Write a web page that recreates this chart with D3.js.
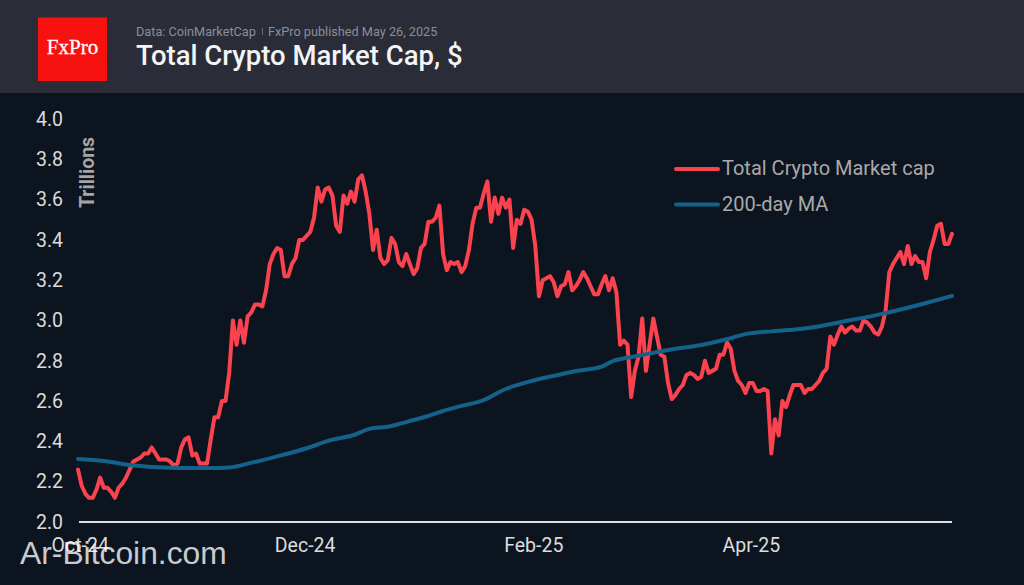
<!DOCTYPE html>
<html>
<head>
<meta charset="utf-8">
<script src="https://cdn.jsdelivr.net/npm/d3@7"></script>
<style>
    html, body { margin: 0; padding: 0; background: #0c1420; overflow: hidden; }
    svg { display: block; }
    text { font-family: Roboto, sans-serif; }
</style>
</head>
<body>
<svg id="chart" width="1024" height="585"></svg>
<script>
// daily values, day 0 = Sep 30 2024
var startDate = new Date(2024, 8, 30);
var capValues = [
    2.26, 2.18, 2.14, 2.12, 2.12, 2.16, 2.22, 2.17, 2.17, 2.15,
    2.12, 2.17, 2.19, 2.22, 2.26, 2.30, 2.31, 2.32, 2.34, 2.34,
    2.37, 2.34, 2.31, 2.31, 2.31, 2.30, 2.28, 2.29, 2.37, 2.41,
    2.42, 2.33, 2.34, 2.29, 2.29, 2.29, 2.41, 2.52, 2.52, 2.60,
    2.60, 2.74, 3.00, 2.88, 3.00, 2.89, 3.02, 3.04, 3.08, 3.08,
    3.07, 3.15, 3.28, 3.33, 3.36, 3.35, 3.22, 3.22, 3.28, 3.31,
    3.40, 3.40, 3.42, 3.44, 3.51, 3.66, 3.59, 3.65, 3.66, 3.62,
    3.47, 3.44, 3.62, 3.58, 3.64, 3.59, 3.70, 3.72, 3.64, 3.53,
    3.35, 3.45, 3.31, 3.28, 3.30, 3.41, 3.38, 3.29, 3.27, 3.33,
    3.28, 3.23, 3.26, 3.36, 3.38, 3.49, 3.49, 3.51, 3.57, 3.33,
    3.25, 3.29, 3.28, 3.29, 3.24, 3.27, 3.35, 3.48, 3.56, 3.56,
    3.63, 3.69, 3.49, 3.61, 3.53, 3.61, 3.56, 3.60, 3.36, 3.50,
    3.48, 3.55, 3.54, 3.50, 3.37, 3.12, 3.20, 3.21, 3.22, 3.19,
    3.12, 3.17, 3.18, 3.24, 3.15, 3.17, 3.20, 3.24, 3.21, 3.17,
    3.13, 3.13, 3.18, 3.22, 3.15, 3.21, 3.14, 2.88, 2.90, 2.88,
    2.62, 2.75, 2.82, 3.01, 2.75, 2.88, 3.01, 2.92, 2.83, 2.82,
    2.69, 2.61, 2.63, 2.66, 2.68, 2.73, 2.74, 2.73, 2.71, 2.72,
    2.80, 2.74, 2.75, 2.76, 2.83, 2.83, 2.89, 2.86, 2.75, 2.70,
    2.68, 2.64, 2.69, 2.69, 2.65, 2.65, 2.66, 2.65, 2.34, 2.51,
    2.43, 2.60, 2.57, 2.63, 2.68, 2.68, 2.68, 2.64, 2.66, 2.66,
    2.68, 2.70, 2.74, 2.76, 2.92, 2.88, 2.93, 2.97, 2.94, 2.96,
    2.97, 2.95, 2.95, 3.00, 2.99, 2.97, 2.94, 2.93, 2.97, 3.05,
    3.24, 3.28, 3.31, 3.34, 3.28, 3.37, 3.28, 3.32, 3.29, 3.29,
    3.21, 3.34, 3.40, 3.47, 3.48, 3.38, 3.38, 3.43
];
// 200-day MA read at a few days along the line
var maDays = [0, 7, 14, 27, 36, 41, 47, 53, 62, 68, 75, 79, 84, 91, 95, 99, 104, 110, 116, 123, 129, 135, 142, 145, 148, 153, 160, 169, 175, 182, 188, 193, 198, 207, 218, 230, 237];
var maValues = [2.313, 2.303, 2.283, 2.268, 2.268, 2.271, 2.294, 2.321, 2.366, 2.404, 2.433, 2.462, 2.473, 2.506, 2.526, 2.551, 2.576, 2.605, 2.660, 2.700, 2.725, 2.749, 2.771, 2.799, 2.812, 2.829, 2.854, 2.878, 2.903, 2.936, 2.946, 2.953, 2.963, 2.993, 3.033, 3.087, 3.122];
var yTicks = [2.0, 2.2, 2.4, 2.6, 2.8, 3.0, 3.2, 3.4, 3.6, 3.8, 4.0];
var xTicks = [new Date(2024, 9, 1), new Date(2024, 11, 1), new Date(2025, 1, 1), new Date(2025, 3, 1)];
var seriesNames = ["Total Crypto Market cap", "200-day MA"];
var seriesColors = ["#fb4350", "#14628a"];

var svg = d3.select("#chart");
var endDate = d3.timeDay.offset(startDate, capValues.length - 1);

var x = d3.scaleTime().domain([startDate, endDate]).range([78, 952]);
var y = d3.scaleLinear().domain([2, 4]).range([522, 119]);

// header
svg.append("rect").attr("width", 1024).attr("height", 93).attr("fill", "#2a2c38");
svg.append("rect")
    .attr("x", 38).attr("y", 17.5).attr("width", 69).attr("height", 63.5)
    .attr("fill", "#f71210");
svg.append("text")
    .attr("x", 72.5).attr("y", 54)
    .attr("text-anchor", "middle")
    .style("font-family", "'Liberation Serif', serif")
    .style("font-size", "21px")
    .attr("fill", "#ffffff")
    .attr("stroke", "#ffffff")
    .attr("stroke-width", 0.3)
    .text("FxPro");
svg.append("text")
    .attr("x", 136).attr("y", 36)
    .style("font-size", "12.7px")
    .attr("fill", "#8c8e96")
    .text("Data: CoinMarketCap");
svg.append("rect").attr("x", 262).attr("y", 28).attr("width", 1).attr("height", 7).attr("fill", "#6a6c76");
svg.append("text")
    .attr("x", 268).attr("y", 36)
    .style("font-size", "12.7px")
    .attr("fill", "#8c8e96")
    .text("FxPro published May 26, 2025");
svg.append("text")
    .attr("x", 136).attr("y", 65)
    .style("font-size", "27.5px")
    .style("font-weight", 500)
    .attr("fill", "#f4f4f4")
    .text("Total Crypto Market Cap, $");

// axes
var yAxis = svg.append("g")
    .attr("transform", "translate(63,0)")
    .call(d3.axisLeft(y).tickValues(yTicks).tickFormat(d3.format(".1f")).tickSize(0).tickPadding(0));
yAxis.select(".domain").remove();
yAxis.selectAll("text")
    .style("font-family", "Roboto, sans-serif")
    .style("font-size", "19.5px")
    .attr("fill", "#dcdcdc");

var xAxis = svg.append("g")
    .attr("transform", "translate(0,522)")
    .call(d3.axisBottom(x).tickValues(xTicks).tickFormat(d3.timeFormat("%b-%y")).tickSize(0).tickPadding(16));
xAxis.select(".domain").remove();
xAxis.selectAll("text")
    .attr("dx", -2)
    .style("font-family", "Roboto, sans-serif")
    .style("font-size", "19.5px")
    .attr("fill", "#dcdcdc");

svg.append("line")
    .attr("x1", 79).attr("x2", 952)
    .attr("y1", y(2)).attr("y2", y(2))
    .attr("stroke", "#dfdfdf").attr("stroke-width", 2);

svg.append("text")
    .attr("transform", "translate(94,172.5) rotate(-90)")
    .attr("text-anchor", "middle")
    .style("font-size", "19.5px")
    .style("font-weight", "bold")
    .attr("fill", "#a5a5a5")
    .text("Trillions");

// lines
var line = d3.line()
    .x(function (d) { return x(d.date); })
    .y(function (d) { return y(d.value); });

var capData = capValues.map(function (v, i) {
    return { date: d3.timeDay.offset(startDate, i), value: v };
});
var maData = maValues.map(function (v, i) {
    return { date: d3.timeDay.offset(startDate, maDays[i]), value: v };
});

svg.append("path")
    .datum(capData)
    .attr("d", line)
    .attr("fill", "none")
    .attr("stroke", seriesColors[0])
    .attr("stroke-width", 4)
    .attr("stroke-linejoin", "round")
    .attr("stroke-linecap", "round");
svg.append("path")
    .datum(maData)
    .attr("d", line.curve(d3.curveMonotoneX))
    .attr("fill", "none")
    .attr("stroke", seriesColors[1])
    .attr("stroke-width", 4)
    .attr("stroke-linejoin", "round")
    .attr("stroke-linecap", "round");

// legend
var legend = svg.selectAll(".legend")
    .data(seriesNames)
    .enter()
    .append("g")
    .attr("class", "legend")
    .attr("transform", function (d, i) { return "translate(0," + (169 + i * 35.5) + ")"; });
legend.append("line")
    .attr("x1", 676).attr("x2", 718)
    .attr("stroke", function (d, i) { return seriesColors[i]; })
    .attr("stroke-width", 4)
    .attr("stroke-linecap", "round");
legend.append("text")
    .attr("x", 722).attr("y", 6)
    .style("font-size", "20px")
    .attr("fill", "#a9a9a9")
    .text(function (d) { return d; });

// watermark sits over the first tick label
svg.append("text")
    .attr("x", 20).attr("y", 564)
    .style("font-family", "'Liberation Sans', Arial, sans-serif")
    .style("font-size", "31.8px")
    .attr("fill", "#ffffff")
    .attr("fill-opacity", 0.78)
    .text("Ar-Bitcoin.com");
</script>
</body>
</html>
